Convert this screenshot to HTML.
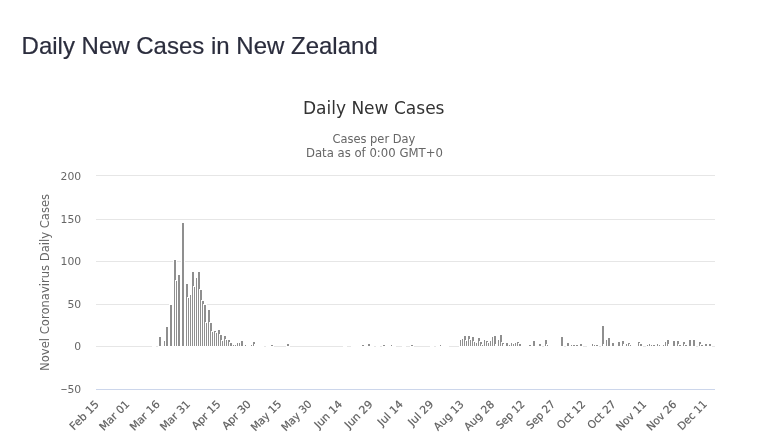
<!DOCTYPE html>
<html lang="en"><head><meta charset="utf-8"><title>Daily New Cases in New Zealand</title>
<style>
html,body{margin:0;padding:0;background:#fff;}
body{width:776px;height:447px;overflow:hidden;position:relative;font-family:"Liberation Sans",Arial,sans-serif;}
h3{position:absolute;left:21.6px;top:32px;margin:0;font-size:24px;line-height:28px;font-weight:400;color:#2b2d3d;white-space:nowrap;-webkit-text-stroke:0.2px #2b2d3d;}
svg{position:absolute;left:0;top:0;}
svg text{font-family:"DejaVu Sans","Liberation Sans",sans-serif;}
</style></head><body>
<h3>Daily New Cases in New Zealand</h3>
<svg width="776" height="447" viewBox="0 0 776 447">
<g stroke="#e6e6e6" stroke-width="1" fill="none">
<path d="M96 175.5H715M96 219.5H715M96 261.5H715M96 304.5H715"/>
</g>
<path d="M96 389.5H715" stroke="#ccd6eb" stroke-width="1" fill="none"/>
<g fill="#8f8f8f" shape-rendering="crispEdges">
<path d="M158 336h4V347h-4z" fill="#fff"/><path d="M159 337h2V346h-2z"/>
<path d="M163 340h4V347h-4z" fill="#fff"/><path d="M164 341h2V346h-2z"/>
<path d="M165 326h4V347h-4z" fill="#fff"/><path d="M166 327h2V346h-2z"/>
<path d="M169 304h4V347h-4z" fill="#fff"/><path d="M170 305h2V346h-2z"/>
<path d="M173 259h4V347h-4z" fill="#fff"/><path d="M174 260h2V346h-2z"/>
<path d="M175 280h4V347h-4z" fill="#fff"/><path d="M176 281h2V346h-2z"/>
<path d="M177 274h4V347h-4z" fill="#fff"/><path d="M178 275h2V346h-2z"/>
<path d="M181 222h4V347h-4z" fill="#fff"/><path d="M182 223h2V346h-2z"/>
<path d="M185 283h4V347h-4z" fill="#fff"/><path d="M186 284h2V346h-2z"/>
<path d="M187 297h4V347h-4z" fill="#fff"/><path d="M188 298h2V346h-2z"/>
<path d="M189 294h4V347h-4z" fill="#fff"/><path d="M190 295h2V346h-2z"/>
<path d="M191 271h4V347h-4z" fill="#fff"/><path d="M192 272h2V346h-2z"/>
<path d="M193 286h4V347h-4z" fill="#fff"/><path d="M194 287h2V346h-2z"/>
<path d="M195 277h4V347h-4z" fill="#fff"/><path d="M196 278h2V346h-2z"/>
<path d="M197 271h4V347h-4z" fill="#fff"/><path d="M198 272h2V346h-2z"/>
<path d="M199 289h4V347h-4z" fill="#fff"/><path d="M200 290h2V346h-2z"/>
<path d="M201 300h4V347h-4z" fill="#fff"/><path d="M202 301h2V346h-2z"/>
<path d="M203 304h4V347h-4z" fill="#fff"/><path d="M204 305h2V346h-2z"/>
<path d="M205 322h4V347h-4z" fill="#fff"/><path d="M206 323h2V346h-2z"/>
<path d="M207 309h4V347h-4z" fill="#fff"/><path d="M208 310h2V346h-2z"/>
<path d="M209 322h4V347h-4z" fill="#fff"/><path d="M210 323h2V346h-2z"/>
<path d="M211 331h4V347h-4z" fill="#fff"/><path d="M212 332h2V346h-2z"/>
<path d="M213 330h4V347h-4z" fill="#fff"/><path d="M214 331h2V346h-2z"/>
<path d="M215 332h4V347h-4z" fill="#fff"/><path d="M216 333h2V346h-2z"/>
<path d="M217 329h4V347h-4z" fill="#fff"/><path d="M218 330h2V346h-2z"/>
<path d="M219 334h4V347h-4z" fill="#fff"/><path d="M220 335h2V346h-2z"/>
<path d="M221 340h4V347h-4z" fill="#fff"/><path d="M222 341h2V346h-2z"/>
<path d="M223 335h4V347h-4z" fill="#fff"/><path d="M224 336h2V346h-2z"/>
<path d="M225 339h4V347h-4z" fill="#fff"/><path d="M226 340h2V346h-2z"/>
<path d="M227 339h4V347h-4z" fill="#fff"/><path d="M228 340h2V346h-2z"/>
<path d="M229 342h4V347h-4z" fill="#fff"/><path d="M230 343h2V346h-2z"/>
<path d="M232 344h4V347h-4z" fill="#fff"/><path d="M233 345h2V346h-2z"/>
<path d="M234 344h4V347h-4z" fill="#fff"/><path d="M235 345h2V346h-2z"/>
<path d="M236 342h4V347h-4z" fill="#fff"/><path d="M237 343h2V346h-2z"/>
<path d="M238 342h4V347h-4z" fill="#fff"/><path d="M239 343h2V346h-2z"/>
<path d="M240 340h4V347h-4z" fill="#fff"/><path d="M241 341h2V346h-2z"/>
<path d="M244 344h4V347h-4z" fill="#fff"/><path d="M245 345h2V346h-2z"/>
<path d="M246 344h4v3h-4z" fill="#fff"/>
<path d="M250 344h4V347h-4z" fill="#fff"/><path d="M251 345h2V346h-2z"/>
<path d="M252 341h4V347h-4z" fill="#fff"/><path d="M253 342h2V346h-2z"/>
<path d="M254 344h4v3h-4z" fill="#fff"/>
<path d="M270 344h4V347h-4z" fill="#fff"/><path d="M271 345h2V346h-2z"/>
<path d="M286 343h4V347h-4z" fill="#fff"/><path d="M287 344h2V346h-2z"/>
<path d="M361 344h4V347h-4z" fill="#fff"/><path d="M362 345h2V346h-2z"/>
<path d="M367 343h4V347h-4z" fill="#fff"/><path d="M368 344h2V346h-2z"/>
<path d="M382 344h4V347h-4z" fill="#fff"/><path d="M383 345h2V346h-2z"/>
<path d="M390 344h4V347h-4z" fill="#fff"/><path d="M391 345h2V346h-2z"/>
<path d="M392 344h4v3h-4z" fill="#fff"/>
<path d="M410 344h4V347h-4z" fill="#fff"/><path d="M411 345h2V346h-2z"/>
<path d="M439 344h4V347h-4z" fill="#fff"/><path d="M440 345h2V346h-2z"/>
<path d="M441 344h4v3h-4z" fill="#fff"/>
<path d="M459 339h4V347h-4z" fill="#fff"/><path d="M460 340h2V346h-2z"/>
<path d="M461 338h4V347h-4z" fill="#fff"/><path d="M462 339h2V346h-2z"/>
<path d="M463 335h4V347h-4z" fill="#fff"/><path d="M464 336h2V346h-2z"/>
<path d="M465 340h4V347h-4z" fill="#fff"/><path d="M466 341h2V346h-2z"/>
<path d="M467 335h4V347h-4z" fill="#fff"/><path d="M468 336h2V346h-2z"/>
<path d="M469 339h4V347h-4z" fill="#fff"/><path d="M470 340h2V346h-2z"/>
<path d="M471 336h4V347h-4z" fill="#fff"/><path d="M472 337h2V346h-2z"/>
<path d="M473 341h4V347h-4z" fill="#fff"/><path d="M474 342h2V346h-2z"/>
<path d="M475 342h4V347h-4z" fill="#fff"/><path d="M476 343h2V346h-2z"/>
<path d="M477 337h4V347h-4z" fill="#fff"/><path d="M478 338h2V346h-2z"/>
<path d="M479 341h4V347h-4z" fill="#fff"/><path d="M480 342h2V346h-2z"/>
<path d="M481 344h4V347h-4z" fill="#fff"/><path d="M482 345h2V346h-2z"/>
<path d="M483 339h4V347h-4z" fill="#fff"/><path d="M484 340h2V346h-2z"/>
<path d="M485 340h4V347h-4z" fill="#fff"/><path d="M486 341h2V346h-2z"/>
<path d="M487 342h4V347h-4z" fill="#fff"/><path d="M488 343h2V346h-2z"/>
<path d="M489 340h4V347h-4z" fill="#fff"/><path d="M490 341h2V346h-2z"/>
<path d="M491 336h4V347h-4z" fill="#fff"/><path d="M492 337h2V346h-2z"/>
<path d="M493 335h4V347h-4z" fill="#fff"/><path d="M494 336h2V346h-2z"/>
<path d="M495 344h4v3h-4z" fill="#fff"/>
<path d="M497 339h4V347h-4z" fill="#fff"/><path d="M498 340h2V346h-2z"/>
<path d="M499 334h4V347h-4z" fill="#fff"/><path d="M500 335h2V346h-2z"/>
<path d="M501 342h4V347h-4z" fill="#fff"/><path d="M502 343h2V346h-2z"/>
<path d="M503 344h4v3h-4z" fill="#fff"/>
<path d="M505 342h4V347h-4z" fill="#fff"/><path d="M506 343h2V346h-2z"/>
<path d="M508 344h4V347h-4z" fill="#fff"/><path d="M509 345h2V346h-2z"/>
<path d="M510 342h4V347h-4z" fill="#fff"/><path d="M511 343h2V346h-2z"/>
<path d="M512 343h4V347h-4z" fill="#fff"/><path d="M513 344h2V346h-2z"/>
<path d="M514 342h4V347h-4z" fill="#fff"/><path d="M515 343h2V346h-2z"/>
<path d="M516 341h4V347h-4z" fill="#fff"/><path d="M517 342h2V346h-2z"/>
<path d="M518 343h4V347h-4z" fill="#fff"/><path d="M519 344h2V346h-2z"/>
<path d="M528 344h4V347h-4z" fill="#fff"/><path d="M529 345h2V346h-2z"/>
<path d="M532 340h4V347h-4z" fill="#fff"/><path d="M533 341h2V346h-2z"/>
<path d="M538 343h4V347h-4z" fill="#fff"/><path d="M539 344h2V346h-2z"/>
<path d="M544 339h4V347h-4z" fill="#fff"/><path d="M545 340h2V346h-2z"/>
<path d="M546 344h4V347h-4z" fill="#fff"/><path d="M547 345h2V346h-2z"/>
<path d="M548 344h4v3h-4z" fill="#fff"/>
<path d="M560 336h4V347h-4z" fill="#fff"/><path d="M561 337h2V346h-2z"/>
<path d="M566 342h4V347h-4z" fill="#fff"/><path d="M567 343h2V346h-2z"/>
<path d="M570 344h4V347h-4z" fill="#fff"/><path d="M571 345h2V346h-2z"/>
<path d="M572 344h4V347h-4z" fill="#fff"/><path d="M573 345h2V346h-2z"/>
<path d="M575 344h4V347h-4z" fill="#fff"/><path d="M576 345h2V346h-2z"/>
<path d="M579 343h4V347h-4z" fill="#fff"/><path d="M580 344h2V346h-2z"/>
<path d="M591 343h4V347h-4z" fill="#fff"/><path d="M592 344h2V346h-2z"/>
<path d="M593 344h4V347h-4z" fill="#fff"/><path d="M594 345h2V346h-2z"/>
<path d="M595 344h4V347h-4z" fill="#fff"/><path d="M596 345h2V346h-2z"/>
<path d="M601 325h4V347h-4z" fill="#fff"/><path d="M602 326h2V346h-2z"/>
<path d="M603 344h4v3h-4z" fill="#fff"/>
<path d="M605 339h4V347h-4z" fill="#fff"/><path d="M606 340h2V346h-2z"/>
<path d="M607 337h4V347h-4z" fill="#fff"/><path d="M608 338h2V346h-2z"/>
<path d="M611 342h4V347h-4z" fill="#fff"/><path d="M612 343h2V346h-2z"/>
<path d="M617 341h4V347h-4z" fill="#fff"/><path d="M618 342h2V346h-2z"/>
<path d="M621 340h4V347h-4z" fill="#fff"/><path d="M622 341h2V346h-2z"/>
<path d="M623 344h4v3h-4z" fill="#fff"/>
<path d="M625 343h4V347h-4z" fill="#fff"/><path d="M626 344h2V346h-2z"/>
<path d="M627 342h4V347h-4z" fill="#fff"/><path d="M628 343h2V346h-2z"/>
<path d="M629 344h4V347h-4z" fill="#fff"/><path d="M630 345h2V346h-2z"/>
<path d="M631 344h4v3h-4z" fill="#fff"/>
<path d="M637 341h4V347h-4z" fill="#fff"/><path d="M638 342h2V346h-2z"/>
<path d="M639 343h4V347h-4z" fill="#fff"/><path d="M640 344h2V346h-2z"/>
<path d="M646 344h4V347h-4z" fill="#fff"/><path d="M647 345h2V346h-2z"/>
<path d="M648 343h4V347h-4z" fill="#fff"/><path d="M649 344h2V346h-2z"/>
<path d="M650 344h4V347h-4z" fill="#fff"/><path d="M651 345h2V346h-2z"/>
<path d="M652 344h4V347h-4z" fill="#fff"/><path d="M653 345h2V346h-2z"/>
<path d="M656 343h4V347h-4z" fill="#fff"/><path d="M657 344h2V346h-2z"/>
<path d="M658 344h4V347h-4z" fill="#fff"/><path d="M659 345h2V346h-2z"/>
<path d="M660 344h4v3h-4z" fill="#fff"/>
<path d="M662 344h4V347h-4z" fill="#fff"/><path d="M663 345h2V346h-2z"/>
<path d="M664 341h4V347h-4z" fill="#fff"/><path d="M665 342h2V346h-2z"/>
<path d="M666 339h4V347h-4z" fill="#fff"/><path d="M667 340h2V346h-2z"/>
<path d="M668 344h4v3h-4z" fill="#fff"/>
<path d="M672 340h4V347h-4z" fill="#fff"/><path d="M673 341h2V346h-2z"/>
<path d="M676 340h4V347h-4z" fill="#fff"/><path d="M677 341h2V346h-2z"/>
<path d="M678 344h4V347h-4z" fill="#fff"/><path d="M679 345h2V346h-2z"/>
<path d="M682 341h4V347h-4z" fill="#fff"/><path d="M683 342h2V346h-2z"/>
<path d="M684 344h4V347h-4z" fill="#fff"/><path d="M685 345h2V346h-2z"/>
<path d="M688 339h4V347h-4z" fill="#fff"/><path d="M689 340h2V346h-2z"/>
<path d="M692 339h4V347h-4z" fill="#fff"/><path d="M693 340h2V346h-2z"/>
<path d="M698 341h4V347h-4z" fill="#fff"/><path d="M699 342h2V346h-2z"/>
<path d="M700 344h4V347h-4z" fill="#fff"/><path d="M701 345h2V346h-2z"/>
<path d="M704 343h4V347h-4z" fill="#fff"/><path d="M705 344h2V346h-2z"/>
<path d="M708 343h4V347h-4z" fill="#fff"/><path d="M709 344h2V346h-2z"/>
</g>
<path d="M96 346.5H152M156 346.5H158M264 346.5H266M274 346.5H286M290 346.5H343M347 346.5H351M374 346.5H376M380 346.5H382M396 346.5H402M406 346.5H410M414 346.5H430M434 346.5H436M449 346.5H459M542 346.5H544M564 346.5H566M583 346.5H587M599 346.5H601M643 346.5H646M696 346.5H698M712 346.5H715" stroke="#e6e6e6" stroke-width="1" fill="none"/>
<text x="373.7" y="114" text-anchor="middle" font-size="17" fill="#333" textLength="141.6" lengthAdjust="spacingAndGlyphs">Daily New Cases</text>
<g font-size="11.7" fill="#666" text-anchor="middle">
<text x="373.9" y="142.5" textLength="83" lengthAdjust="spacingAndGlyphs">Cases per Day</text>
<text x="374.4" y="156.9" textLength="137" lengthAdjust="spacingAndGlyphs">Data as of 0:00 GMT+0</text>
</g>
<text transform="translate(48.7,282.4) rotate(-90)" text-anchor="middle" font-size="11.7" fill="#666" textLength="177" lengthAdjust="spacingAndGlyphs">Novel Coronavirus Daily Cases</text>
<g font-size="10.8" fill="#666">
<text x="81.2" y="180" text-anchor="end">200</text>
<text x="81.2" y="223" text-anchor="end">150</text>
<text x="81.2" y="265.1" text-anchor="end">100</text>
<text x="81.2" y="308" text-anchor="end">50</text>
<text x="81.2" y="350" text-anchor="end">0</text>
<text x="81.2" y="393" text-anchor="end"><tspan textLength="7" lengthAdjust="spacingAndGlyphs">−</tspan>50</text>
</g>
<g font-size="10.8" fill="#5c5c5c" stroke="#666" stroke-width="0.2">
<text transform="translate(99.71,404.9) rotate(-45)" text-anchor="end" textLength="36.4" lengthAdjust="spacingAndGlyphs">Feb 15</text>
<text transform="translate(130.11,404.9) rotate(-45)" text-anchor="end" textLength="37.3" lengthAdjust="spacingAndGlyphs">Mar 01</text>
<text transform="translate(160.51,404.9) rotate(-45)" text-anchor="end" textLength="37.3" lengthAdjust="spacingAndGlyphs">Mar 16</text>
<text transform="translate(190.91,404.9) rotate(-45)" text-anchor="end" textLength="37.3" lengthAdjust="spacingAndGlyphs">Mar 31</text>
<text transform="translate(221.30,404.9) rotate(-45)" text-anchor="end" textLength="35.8" lengthAdjust="spacingAndGlyphs">Apr 15</text>
<text transform="translate(251.70,404.9) rotate(-45)" text-anchor="end" textLength="35.8" lengthAdjust="spacingAndGlyphs">Apr 30</text>
<text transform="translate(282.10,404.9) rotate(-45)" text-anchor="end" textLength="38.0" lengthAdjust="spacingAndGlyphs">May 15</text>
<text transform="translate(312.50,404.9) rotate(-45)" text-anchor="end" textLength="38.0" lengthAdjust="spacingAndGlyphs">May 30</text>
<text transform="translate(342.89,404.9) rotate(-45)" text-anchor="end" textLength="34.2" lengthAdjust="spacingAndGlyphs">Jun 14</text>
<text transform="translate(373.29,404.9) rotate(-45)" text-anchor="end" textLength="34.2" lengthAdjust="spacingAndGlyphs">Jun 29</text>
<text transform="translate(403.69,404.9) rotate(-45)" text-anchor="end" textLength="30.5" lengthAdjust="spacingAndGlyphs">Jul 14</text>
<text transform="translate(434.09,404.9) rotate(-45)" text-anchor="end" textLength="30.5" lengthAdjust="spacingAndGlyphs">Jul 29</text>
<text transform="translate(464.48,404.9) rotate(-45)" text-anchor="end" textLength="37.3" lengthAdjust="spacingAndGlyphs">Aug 13</text>
<text transform="translate(494.88,404.9) rotate(-45)" text-anchor="end" textLength="37.3" lengthAdjust="spacingAndGlyphs">Aug 28</text>
<text transform="translate(525.28,404.9) rotate(-45)" text-anchor="end" textLength="35.1" lengthAdjust="spacingAndGlyphs">Sep 12</text>
<text transform="translate(555.68,404.9) rotate(-45)" text-anchor="end" textLength="35.1" lengthAdjust="spacingAndGlyphs">Sep 27</text>
<text transform="translate(586.07,404.9) rotate(-45)" text-anchor="end" textLength="35.1" lengthAdjust="spacingAndGlyphs">Oct 12</text>
<text transform="translate(616.47,404.9) rotate(-45)" text-anchor="end" textLength="35.1" lengthAdjust="spacingAndGlyphs">Oct 27</text>
<text transform="translate(646.87,404.9) rotate(-45)" text-anchor="end" textLength="37.3" lengthAdjust="spacingAndGlyphs">Nov 11</text>
<text transform="translate(677.27,404.9) rotate(-45)" text-anchor="end" textLength="37.3" lengthAdjust="spacingAndGlyphs">Nov 26</text>
<text transform="translate(707.66,404.9) rotate(-45)" text-anchor="end" textLength="36.4" lengthAdjust="spacingAndGlyphs">Dec 11</text>
</g>
</svg>
</body></html>
